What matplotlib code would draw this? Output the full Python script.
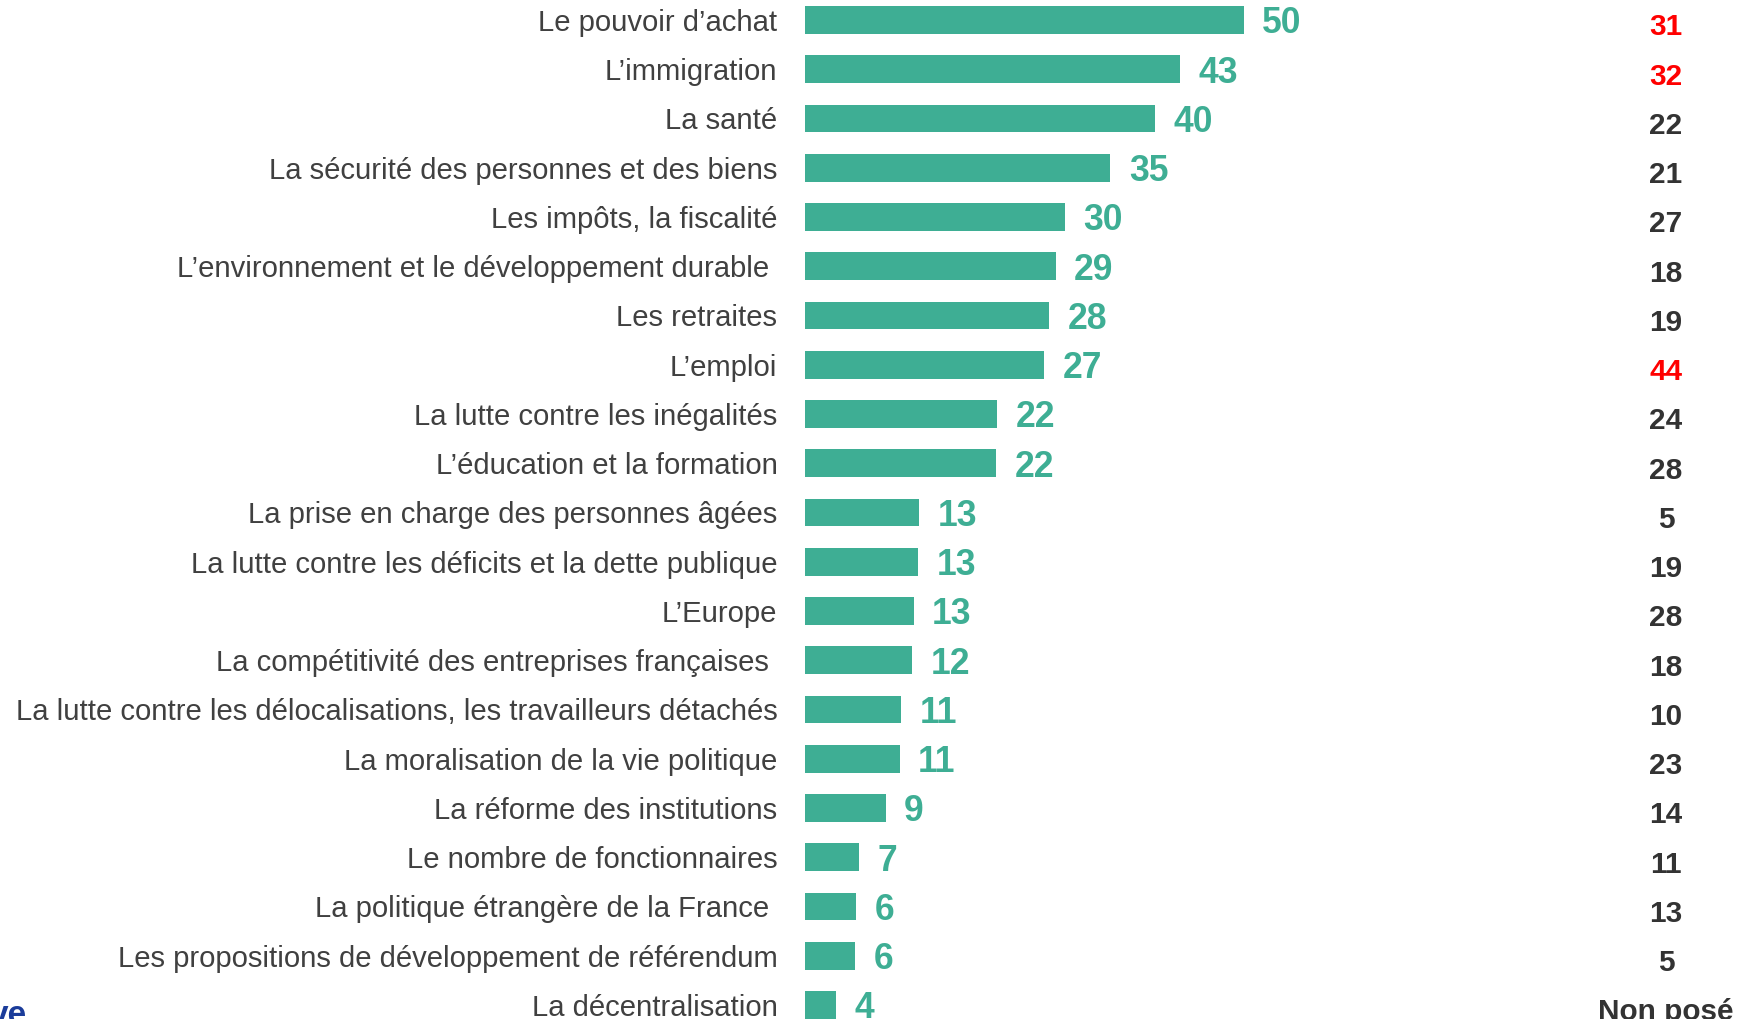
import matplotlib
matplotlib.use("Agg")
import matplotlib.pyplot as plt

plt.rcParams['font.family'] = ['Liberation Sans', 'DejaVu Sans']

categories = [
    "Le pouvoir d’achat",
    "L’immigration",
    "La santé",
    "La sécurité des personnes et des biens",
    "Les impôts, la fiscalité",
    "L’environnement et le développement durable ",
    "Les retraites",
    "L’emploi",
    "La lutte contre les inégalités",
    "L’éducation et la formation",
    "La prise en charge des personnes âgées",
    "La lutte contre les déficits et la dette publique",
    "L’Europe",
    "La compétitivité des entreprises françaises ",
    "La lutte contre les délocalisations, les travailleurs détachés",
    "La moralisation de la vie politique",
    "La réforme des institutions",
    "Le nombre de fonctionnaires",
    "La politique étrangère de la France ",
    "Les propositions de développement de référendum",
    "La décentralisation",
]
# bar lengths
values = [50, 42.7, 39.85, 34.8, 29.6, 28.55, 27.8, 27.25, 21.9, 21.8,
          13.0, 12.85, 12.35, 12.15, 10.95, 10.75, 9.15, 6.1, 5.8, 5.7, 3.45]
# printed labels next to the bars
value_labels = ["50", "43", "40", "35", "30", "29", "28", "27", "22", "22",
                "13", "13", "13", "12", "11", "11", "9", "7", "6", "6", "4"]
# right-hand comparison column
previous = ["31", "32", "22", "21", "27", "18", "19", "44", "24", "28",
            "5", "19", "28", "18", "10", "23", "14", "11", "13", "5", "Non posé"]
highlighted = [True, True, False, False, False, False, False, True, False, False,
               False, False, False, False, False, False, False, False, False, False, False]

BAR = "#3EAE94"
TXT = "#404040"
RED = "#FF0000"
DARK = "#333333"

W, H, DPI = 1744, 1020, 100
fig = plt.figure(figsize=(W / DPI, H / DPI), dpi=DPI)
ax = fig.add_axes([0, 0, 1, 1])
ax.axis("off")

x0_px = 805.3
unit_px = (1243.7 - 805.3) / 50.0
ax.set_xlim(-x0_px / unit_px, (W - x0_px) / unit_px)
row0, pitch = 21.0, 49.25
ax.set_ylim((H - row0) / pitch, -row0 / pitch)

pos = list(range(len(categories)))
ax.barh(pos, values, height=0.56, color=BAR, edgecolor="none")

pt = 72.0 / DPI
for i, (cat, v, lab, prev, hi) in enumerate(zip(categories, values, value_labels, previous, highlighted)):
    ax.annotate(cat, xy=(0, i), xytext=(-27.8 * pt, -10.0 * pt), textcoords="offset points",
                ha="right", va="baseline", fontsize=21.1, color=TXT)
    ax.annotate(lab, xy=(v, i), xytext=(18.5 * pt, -12.5 * pt), textcoords="offset points",
                ha="left", va="baseline", fontsize=25.6, color=BAR, fontweight="bold")
    ax.annotate(prev, xy=(1666 / W, i), xycoords=("axes fraction", "data"),
                xytext=(0, -14.5 * pt), textcoords="offset points",
                ha="center", va="baseline", fontsize=21.4, fontweight="bold",
                color=RED if hi else DARK)

fig.text(27 / W, 1 - 1024 / H, "ve", ha="right", va="baseline",
         fontsize=24, fontweight="bold", color="#1B3C9A")

fig.savefig("out.png", dpi=DPI)
